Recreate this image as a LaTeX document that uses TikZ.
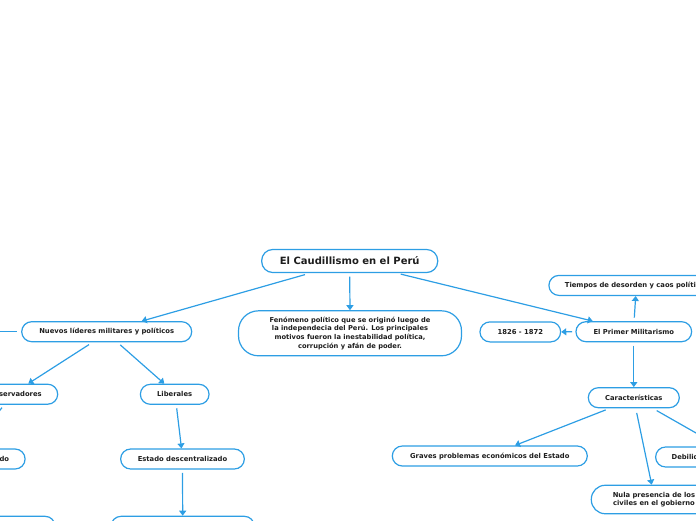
\documentclass[tikz,border=0pt]{standalone}
\usepackage{fontspec}
\setmainfont{DejaVu Sans}
\usepackage{xcolor}
\usetikzlibrary{arrows.meta,positioning}
\definecolor{mmblue}{RGB}{45,158,228}
\definecolor{mmtext}{RGB}{30,30,30}

\begin{document}
\begin{tikzpicture}[
  x=1pt, y=-1pt,
  font=\bfseries\fontsize{6.8}{8.6}\selectfont,
  topic/.style={draw=mmblue, line width=1.2pt, rounded corners=10pt, fill=white,
                text=mmtext, align=center, minimum height=20pt,
                inner xsep=16pt, inner ysep=0pt},
  main/.style ={topic, font=\bfseries\fontsize{10}{12}\selectfont,
                minimum height=23pt, rounded corners=11pt},
  note/.style ={topic, font=\bfseries\fontsize{6.7}{8.7}\selectfont,
                rounded corners=20pt},
  arr/.style  ={-{Triangle[length=5pt,width=7pt]}, draw=mmblue, line width=1.2pt},
  link/.style ={draw=mmblue, line width=1.2pt}
]
\useasboundingbox (0,0) rectangle (696,520);
\clip (0,0) rectangle (696,520);

% centre
\node[main, minimum width=176pt] (root) at (349.7,261) {El Caudillismo en el Perú};
\node[note, minimum width=223pt, minimum height=45pt] (fen) at (350,333.3)
      {Fenómeno político que se originó luego de\\la independecia del Perú. Los principales\\motivos fueron la inestabilidad política,\\corrupción y afán de poder.};

% left branch
\node[topic, minimum width=170pt] (nuevos) at (106.7,331.7) {Nuevos líderes militares y políticos};
\node[topic, anchor=east]          (cons)   at (58.3,394.2)  {Conservadores};
\node[topic, minimum width=68.7pt] (lib)    at (174.7,394.3) {Liberales};
\node[topic, anchor=east]          (estc)   at (25.7,459)    {Estado centralizado};
\node[topic, minimum width=123.7pt] (estd)  at (182.5,459)   {Estado descentralizado};
\node[topic, anchor=north east, minimum width=150pt] (botl) at (55.7,515.7) {};
\node[topic, anchor=north, minimum width=143.3pt]    (botm) at (182.7,515.7) {};
\coordinate (leftout) at (-40,331.7);

% right branch
\node[topic, minimum width=115.7pt] (primer)  at (633.8,331.7) {El Primer Militarismo};
\node[topic, minimum width=80.7pt]  (anios)   at (520.3,331.9) {1826 - 1872};
\node[topic, anchor=west]           (tiempos) at (548.3,285.4) {Tiempos de desorden y caos político};
\node[topic, minimum width=91pt]    (car)     at (633.8,397.7) {Características};
\node[topic, minimum width=195pt]   (graves)  at (489.8,456)   {Graves problemas económicos del Estado};
\node[topic, anchor=west]           (deb)     at (655,457)     {Debilidad institucional};
\node[topic, anchor=west, minimum height=28.5pt, rounded corners=14pt, inner xsep=21.5pt]
      (nula) at (590.7,499.5) {Nula presencia de los\\civiles en el gobierno};
\coordinate (rightout) at (740,331.7);

\draw[arr]  ([shift={(-44.7,1.5)}]root.south) -- ([shift={(35,0)}]nuevos.north);
\draw[arr]  ([shift={(0,3.5)}]root.south)     -- (fen.north);
\draw[arr]  ([shift={(51,1)}]root.south)      -- ([shift={(-41,0)}]primer.north);
\draw[link] ([shift={(-4.4,0)}]nuevos.west)   -- (leftout);
\draw[arr]  ([shift={(-17.7,2.3)}]nuevos.south) -- ([shift={(-30,0)}]cons.north east);
\draw[arr]  ([shift={(13.6,2.6)}]nuevos.south)  -- ([shift={(-10.4,0)}]lib.north);
\draw[arr]  ([shift={(-56.3,2.8)}]cons.south east) -- ([shift={(-56,0)}]estc.north east);
\draw[arr]  ([shift={(2,3.4)}]lib.south)      -- ([shift={(-1,0)}]estd.north);
\draw[arr]  ([shift={(0,3.3)}]estd.south)     -- (botm.north);
\draw[arr]  ([shift={(-3.3,0)}]primer.west)   -- (anios.east);
\draw[arr]  ([shift={(0.5,-3.4)}]primer.north) -- ([shift={(87.4,0)}]tiempos.south west);
\draw[link] ([shift={(4,0)}]primer.east)      -- (rightout);
\draw[arr]  ([shift={(0,3.3)}]primer.south)   -- (car.north);
\draw[arr]  ([shift={(-28.1,1.6)}]car.south)  -- ([shift={(25.2,0)}]graves.north);
\draw[arr]  ([shift={(2.9,4.6)}]car.south)    -- ([shift={(61,0)}]nula.north west);
\draw[arr]  ([shift={(22.9,2.3)}]car.south)   -- ([shift={(64.6,0)}]deb.north west);
\end{tikzpicture}
\end{document}
